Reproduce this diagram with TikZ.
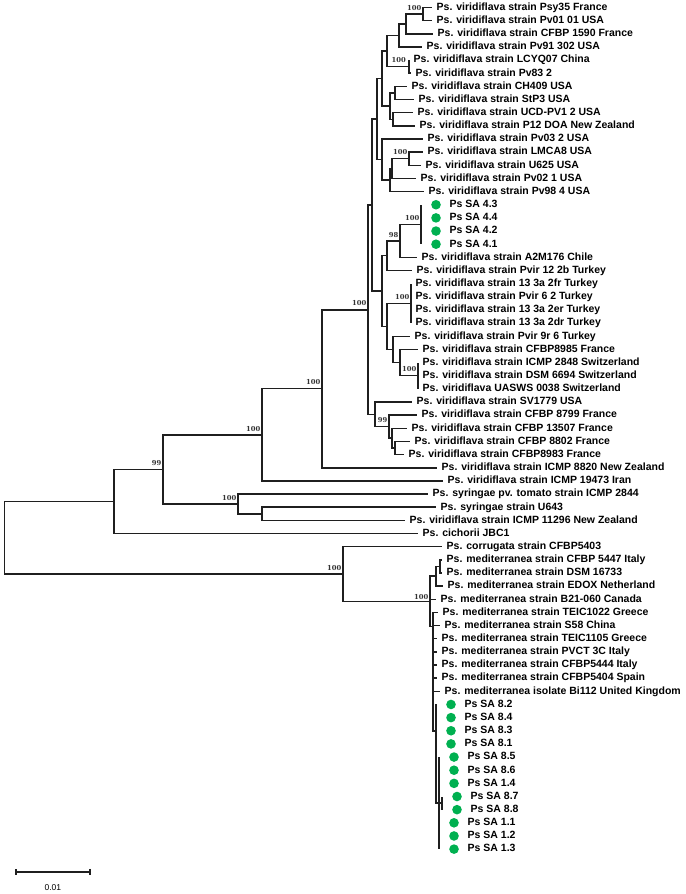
\documentclass[tikz,border=0pt]{standalone}
\usepackage{fontspec}
\setmainfont{Liberation Sans}
\newfontfamily\bootfont{DejaVu Serif}
\usetikzlibrary{positioning,arrows.meta}
\definecolor{sagreen}{RGB}{0,176,80}

\tikzset{
  branch/.style={line width=1.5pt, draw=black!88, line join=miter},
  leaf/.style={anchor=west, inner xsep=4.5pt, inner ysep=0pt, text height=7.6pt, text depth=2pt,
    font=\fontsize{10.5}{12}\selectfont\bfseries},
  sa/.style={leaf, inner xsep=28.5pt},
  sadot/.style={circle, fill=sagreen, inner sep=0pt, minimum size=9.6pt},
  boot/.style={inner sep=0pt, text=black!80, font=\bootfont\bfseries\fontsize{6.8}{7}\selectfont},
  scalelbl/.style={inner sep=0pt, font=\fontsize{8.5}{10}\selectfont}
}

\begin{document}
\begin{tikzpicture}[x=1pt, y=-13.15pt]
  \useasboundingbox (0,0.4297) rectangle (685,68.414);

  % leaves, P. viridiflava
  \node[leaf] (psy35) at (432,1) {Ps. viridiflava strain Psy35 France};
  \node[leaf] (pv0101) at (432,2) {Ps. viridiflava strain Pv01 01 USA};
  \node[leaf] (cfbp1590) at (433,3) {Ps. viridiflava strain CFBP 1590 France};
  \node[leaf] (pv91) at (422,4) {Ps. viridiflava strain Pv91 302 USA};
  \node[leaf] (lcyq07) at (409,5) {Ps. viridiflava strain LCYQ07 China};
  \node[leaf] (pv83) at (411,6) {Ps. viridiflava strain Pv83 2};
  \node[leaf] (ch409) at (407,7) {Ps. viridiflava strain CH409 USA};
  \node[leaf] (stp3) at (414,8) {Ps. viridiflava strain StP3 USA};
  \node[leaf] (ucd) at (413,9) {Ps. viridiflava strain UCD-PV1 2 USA};
  \node[leaf] (p12) at (415,10) {Ps. viridiflava strain P12 DOA New Zealand};
  \node[leaf] (pv03) at (423,11) {Ps. viridiflava strain Pv03 2 USA};
  \node[leaf] (lmca8) at (423,12) {Ps. viridiflava strain LMCA8 USA};
  \node[leaf] (u625) at (421,13) {Ps. viridiflava strain U625 USA};
  \node[leaf] (pv02) at (416,14) {Ps. viridiflava strain Pv02 1 USA};
  \node[leaf] (pv98) at (424,15) {Ps. viridiflava strain Pv98 4 USA};
  \node[sa] (sa43) at (421,16) {Ps SA 4.3};
  \node[sa] (sa44) at (421,17) {Ps SA 4.4};
  \node[sa] (sa42) at (421,18) {Ps SA 4.2};
  \node[sa] (sa41) at (421,19) {Ps SA 4.1};
  \node[leaf] (a2m176) at (417,20) {Ps. viridiflava strain A2M176 Chile};
  \node[leaf] (pvir12) at (412,21) {Ps. viridiflava strain Pvir 12 2b Turkey};
  \node[leaf] (t2fr) at (411,22) {Ps. viridiflava strain 13 3a 2fr Turkey};
  \node[leaf] (pvir62) at (411,23) {Ps. viridiflava strain Pvir 6 2 Turkey};
  \node[leaf] (t2er) at (411,24) {Ps. viridiflava strain 13 3a 2er Turkey};
  \node[leaf] (t2dr) at (411,25) {Ps. viridiflava strain 13 3a 2dr Turkey};
  \node[leaf] (pvir9r) at (410,26) {Ps. viridiflava strain Pvir 9r 6 Turkey};
  \node[leaf] (cfbp8985) at (418,27) {Ps. viridiflava strain CFBP8985 France};
  \node[leaf] (icmp2848) at (418,28) {Ps. viridiflava strain ICMP 2848 Switzerland};
  \node[leaf] (dsm6694) at (418,29) {Ps. viridiflava strain DSM 6694 Switzerland};
  \node[leaf] (uasws) at (418,30) {Ps. viridiflava UASWS 0038 Switzerland};
  \node[leaf] (sv1779) at (412,31) {Ps. viridiflava strain SV1779 USA};
  \node[leaf] (cfbp8799) at (417,32) {Ps. viridiflava strain CFBP 8799 France};
  \node[leaf] (cfbp13507) at (407,33) {Ps. viridiflava strain CFBP 13507 France};
  \node[leaf] (cfbp8802) at (410,34) {Ps. viridiflava strain CFBP 8802 France};
  \node[leaf] (cfbp8983) at (404,35) {Ps. viridiflava strain CFBP8983 France};
  \node[leaf] (icmp8820) at (437,36) {Ps. viridiflava strain ICMP 8820 New Zealand};
  \node[leaf] (icmp19473) at (443,37) {Ps. viridiflava strain ICMP 19473 Iran};
  % leaves, other species
  \node[leaf] (tomato) at (428,38) {Ps. syringae pv. tomato strain ICMP 2844};
  \node[leaf] (u643) at (436,39) {Ps. syringae strain U643};
  \node[leaf] (icmp11296) at (405,40) {Ps. viridiflava strain ICMP 11296 New Zealand};
  \node[leaf] (cichorii) at (418,41) {Ps. cichorii JBC1};
  \node[leaf] (corrugata) at (442,42) {Ps. corrugata strain CFBP5403};
  \node[leaf] (cfbp5447) at (442,43) {Ps. mediterranea strain CFBP 5447 Italy};
  \node[leaf] (dsm16733) at (442,44) {Ps. mediterranea strain DSM 16733};
  \node[leaf] (edox) at (443,45) {Ps. mediterranea strain EDOX Netherland};
  \node[leaf] (b21) at (436,46) {Ps. mediterranea strain B21-060 Canada};
  \node[leaf] (teic1022) at (438,47) {Ps. mediterranea strain TEIC1022 Greece};
  \node[leaf] (s58) at (440,48) {Ps. mediterranea strain S58 China};
  \node[leaf] (teic1105) at (437,49) {Ps. mediterranea strain TEIC1105 Greece};
  \node[leaf] (pvct) at (437,50) {Ps. mediterranea strain PVCT 3C Italy};
  \node[leaf] (cfbp5444) at (437,51) {Ps. mediterranea strain CFBP5444 Italy};
  \node[leaf] (cfbp5404) at (437,52) {Ps. mediterranea strain CFBP5404 Spain};
  \node[leaf] (bi112) at (440,53) {Ps. mediterranea isolate Bi112 United Kingdom};
  \node[sa] (sa82) at (436,54) {Ps SA 8.2};
  \node[sa] (sa84) at (436,55) {Ps SA 8.4};
  \node[sa] (sa83) at (436,56) {Ps SA 8.3};
  \node[sa] (sa81) at (436,57) {Ps SA 8.1};
  \node[sa] (sa85) at (439,58) {Ps SA 8.5};
  \node[sa] (sa86) at (439,59) {Ps SA 8.6};
  \node[sa] (sa14) at (439,60) {Ps SA 1.4};
  \node[sa] (sa87) at (442,61) {Ps SA 8.7};
  \node[sa] (sa88) at (442,62) {Ps SA 8.8};
  \node[sa] (sa11) at (439,63) {Ps SA 1.1};
  \node[sa] (sa12) at (439,64) {Ps SA 1.2};
  \node[sa] (sa13) at (439,65) {Ps SA 1.3};
  \foreach \n in {sa43,sa44,sa42,sa41,sa82,sa84,sa83,sa81,sa85,sa86,sa14,sa87,sa88,sa11,sa12,sa13}
    \node[sadot, right=10pt of \n.west] (\n-dot) {};

  % internal nodes
  \coordinate (nA) at (423,1.5);
  \coordinate (nB) at (406,2.25);
  \coordinate (nC) at (399,3.125);
  \coordinate (nL5) at (409,5.5);
  \coordinate (nD) at (387,4.31);
  \coordinate (nG1) at (395,7.5);
  \coordinate (nG2) at (393,9.5);
  \coordinate (nG) at (390,8.5);
  \coordinate (nE) at (382,6.41);
  \coordinate (nL12) at (409,12.5);
  \coordinate (nJ) at (392,13.25);
  \coordinate (nJb) at (390,14.125);
  \coordinate (nK) at (382,12.56);
  \coordinate (nU) at (377,9.49);
  \coordinate (nSA4) at (421,17.5);
  \coordinate (n98) at (400,18.75);
  \coordinate (n12b) at (387,19.875);
  \coordinate (nTurk) at (411,23.5);
  \coordinate (nSW) at (418,29);
  \coordinate (n8985) at (400,28);
  \coordinate (n9r) at (393,27);
  \coordinate (nTk) at (387,25.25);
  \coordinate (nLow) at (382,22.56);
  \coordinate (nCore) at (372,16.03);
  \coordinate (nL34) at (395,34.5);
  \coordinate (n13507) at (392,33.75);
  \coordinate (n99) at (389,32.875);
  \coordinate (nLF) at (375,31.94);
  \coordinate (m1) at (368,23.985);
  \coordinate (m2) at (322,29.99);
  \coordinate (m3) at (262,33.5);
  \coordinate (s2) at (262,39.5);
  \coordinate (s1) at (238,38.75);
  \coordinate (m4) at (163,36.125);
  \coordinate (m5) at (114,38.56);
  \coordinate (mA) at (440,43.5);
  \coordinate (mB) at (436,44.25);
  \coordinate (med0) at (430,46.16);
  \coordinate (mC) at (433,48.07);
  \coordinate (mD) at (436,56);
  \coordinate (mE) at (439,61.5);
  \coordinate (mF) at (442,61.5);
  \coordinate (m6) at (343,44.08);
  \coordinate (root) at (4.3,41.32);

  % branches
  \draw[branch] (nA) |- (psy35.west) (nA) |- (pv0101.west);
  \draw[branch] (nB) |- (nA) (nB) |- (cfbp1590.west);
  \draw[branch] (nC) |- (nB) (nC) |- (pv91.west);
  \draw[branch] (nL5) |- (lcyq07.west) (nL5) |- (pv83.west);
  \draw[branch] (nD) |- (nC) (nD) |- (nL5);
  \draw[branch] (nG1) |- (ch409.west) (nG1) |- (stp3.west);
  \draw[branch] (nG2) |- (ucd.west) (nG2) |- (p12.west);
  \draw[branch] (nG) |- (nG1) (nG) |- (nG2);
  \draw[branch] (nE) |- (nD) (nE) |- (nG);
  \draw[branch] (nL12) |- (lmca8.west) (nL12) |- (u625.west);
  \draw[branch] (nJ) |- (nL12) (nJ) |- (pv02.west);
  \draw[branch] (nJb) |- (nJ) (nJb) |- (pv98.west);
  \draw[branch] (nK) |- (pv03.west) (nK) |- (nJb);
  \draw[branch] (nU) |- (nE) (nU) |- (nK);
  \draw[branch] (nSA4) |- (sa43.west) (nSA4) |- (sa41.west);
  \draw[branch] (n98) |- (nSA4) (n98) |- (a2m176.west);
  \draw[branch] (n12b) |- (n98) (n12b) |- (pvir12.west);
  \draw[branch] (nTurk) |- (t2fr.west) (nTurk) |- (pvir62.west) (nTurk) |- (t2er.west) (nTurk) |- (t2dr.west);
  \draw[branch] (nSW) |- (icmp2848.west) (nSW) |- (dsm6694.west) (nSW) |- (uasws.west);
  \draw[branch] (n8985) |- (cfbp8985.west) (n8985) |- (nSW);
  \draw[branch] (n9r) |- (pvir9r.west) (n9r) |- (n8985);
  \draw[branch] (nTk) |- (nTurk) (nTk) |- (n9r);
  \draw[branch] (nLow) |- (n12b) (nLow) |- (nTk);
  \draw[branch] (nCore) |- (nU) (nCore) |- (nLow);
  \draw[branch] (nL34) |- (cfbp8802.west) (nL34) |- (cfbp8983.west);
  \draw[branch] (n13507) |- (cfbp13507.west) (n13507) |- (nL34);
  \draw[branch] (n99) |- (cfbp8799.west) (n99) |- (n13507);
  \draw[branch] (nLF) |- (sv1779.west) (nLF) |- (n99);
  \draw[branch] (m1) |- (nCore) (m1) |- (nLF);
  \draw[branch] (m2) |- (m1) (m2) |- (icmp8820.west);
  \draw[branch] (m3) |- (m2) (m3) |- (icmp19473.west);
  \draw[branch] (s2) |- (u643.west) (s2) |- (icmp11296.west);
  \draw[branch] (s1) |- (tomato.west) (s1) |- (s2);
  \draw[branch] (m4) |- (m3) (m4) |- (s1);
  \draw[branch] (m5) |- (m4) (m5) |- (cichorii.west);
  \draw[branch] (mA) |- (cfbp5447.west) (mA) |- (dsm16733.west);
  \draw[branch] (mB) |- (mA) (mB) |- (edox.west);
  \draw[branch] (mF) |- (sa87.west) (mF) |- (sa88.west);
  \draw[branch] (mE) |- (sa85.west) (mE) |- (sa86.west) (mE) |- (sa14.west) (mE) |- (mF)
    (mE) |- (sa11.west) (mE) |- (sa12.west) (mE) |- (sa13.west);
  \draw[branch] (mD) |- (sa82.west) (mD) |- (sa84.west) (mD) |- (sa83.west) (mD) |- (sa81.west) (mD) |- (mE);
  \draw[branch] (mC) |- (teic1022.west) (mC) |- (s58.west) (mC) |- (teic1105.west) (mC) |- (pvct.west)
    (mC) |- (cfbp5444.west) (mC) |- (cfbp5404.west) (mC) |- (bi112.west) (mC) |- (mD);
  \draw[branch] (med0) |- (mB) (med0) |- (b21.west) (med0) |- (mC);
  \draw[branch] (m6) |- (corrugata.west) (m6) |- (med0);
  \draw[branch] (root) |- (m5) (root) |- (m6);

  % bootstrap values
  \node[boot, above left=3.5pt and 1.5pt of nA] (bA) {100};
  \node[boot, above left=3.5pt and 3pt of nL5] (bL5) {100};
  \node[boot, above left=3.5pt and 1.5pt of nL12] (bL12) {100};
  \node[boot, above left=3.5pt and 1.5pt of nSA4] (bSA4) {100};
  \node[boot, above left=3.5pt and 1.5pt of n98] (b98) {98};
  \node[boot, above left=3.5pt and 1.5pt of nTurk] (bTurk) {100};
  \node[boot, above left=3.5pt and 1.5pt of nSW] (bSW) {100};
  \node[boot, above left=3.5pt and 1.5pt of n99] (b99) {99};
  \node[boot, above left=3.5pt and 1.5pt of m1] (bm1) {100};
  \node[boot, above left=3.5pt and 1.5pt of m2] (bm2) {100};
  \node[boot, above left=3.5pt and 1.5pt of m3] (bm3) {100};
  \node[boot, above left=3.5pt and 1.5pt of s1] (bs1) {100};
  \node[boot, above left=3.5pt and 1.5pt of m4] (bm4) {99};
  \node[boot, above left=3.5pt and 1.5pt of m6] (bm6) {100};
  \node[boot, above left=2pt and 1.5pt of med0] (bmed0) {100};

  % scale bar
  \coordinate (bar0) at (15,66.74);
  \coordinate (bar1) at (90.7,66.74);
  \draw[branch, {Bar[width=6pt]}-{Bar[width=6pt]}] (bar0) -- (bar1);
  \node[scalelbl] (barlbl) at (52.8,67.96) {0.01};
\end{tikzpicture}
\end{document}
